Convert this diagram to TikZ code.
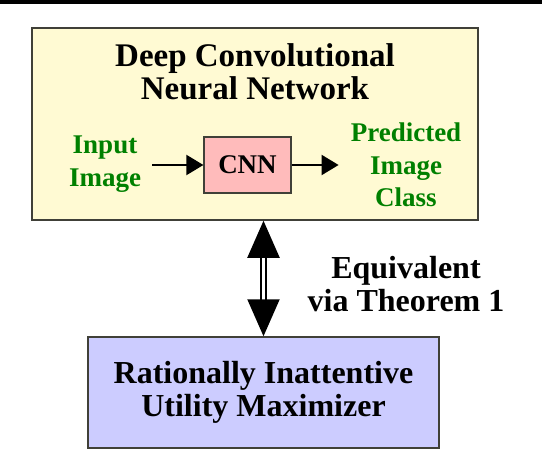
\documentclass[tikz,border=0pt]{standalone}
\usepackage{fontspec}
\setmainfont{Liberation Serif}
\usepackage{xcolor}
\usetikzlibrary{arrows.meta}

\definecolor{boxyellow}{RGB}{255,250,211}
\definecolor{boxpink}{RGB}{255,187,187}
\definecolor{boxblue}{RGB}{204,204,255}
\definecolor{labelgreen}{RGB}{0,128,0}
\definecolor{rim}{RGB}{64,64,56}

\begin{document}
\begin{tikzpicture}[
		x=1pt, y=-1pt,
		outer/.style={draw=rim,line width=1.5pt,fill=boxyellow,inner sep=0pt},
		cnnbox/.style={draw=rim,line width=1.2pt,fill=boxpink,inner sep=0pt,
			minimum width=87pt,minimum height=56pt,font=\fontsize{27}{32}\selectfont\bfseries},
		agent/.style={draw=rim,line width=1.5pt,fill=boxblue,inner sep=0pt,align=center,
			minimum width=351pt,minimum height=111pt,font=\fontsize{32}{33}\selectfont\bfseries},
		big/.style={align=center,inner sep=0pt,font=\fontsize{32}{33}\selectfont\bfseries},
		green/.style={align=center,inner sep=0pt,text=labelgreen,font=\fontsize{27}{32.5}\selectfont\bfseries},
		flow/.style={line width=2pt,-{Triangle[width=20pt,length=17pt]}},
		equiv/.style={double,double distance=3.5pt,line width=2pt,
			{Triangle[width=32pt,length=37pt]}-{Triangle[width=32pt,length=37pt]}}]
		
		\useasboundingbox (0,0) rectangle (542,450);
		\fill (0,0) rectangle (542,4);
		
		\node[outer,minimum width=446pt,minimum height=192pt] (dcnn) at (255,124) {};
		\node[big,font=\fontsize{33}{33}\selectfont\bfseries] (title) at (255,72) {Deep Convolutional\\Neural Network};
		\node[cnnbox] (cnn) at (247.5,165) {CNN};
		\node[green] (input) at (105,164) {Input\\Image};
		\node[green] (pred) at (406,165) {Predicted\\Image\\Class};
		\node[agent] (ruim) at (263.5,392.5) {Rationally Inattentive\\Utility Maximizer};
		\node[big] (equivtext) at (406,284) {Equivalent\\via Theorem 1};
		
		\draw[flow] (input.east |- cnn.west) ++(11,0) -- (cnn.west);
		\draw[flow] (cnn.east) -- ++(47,0);
		\draw[equiv] (ruim.north |- dcnn.south) -- (ruim.north);
		
\end{tikzpicture}
\end{document}
